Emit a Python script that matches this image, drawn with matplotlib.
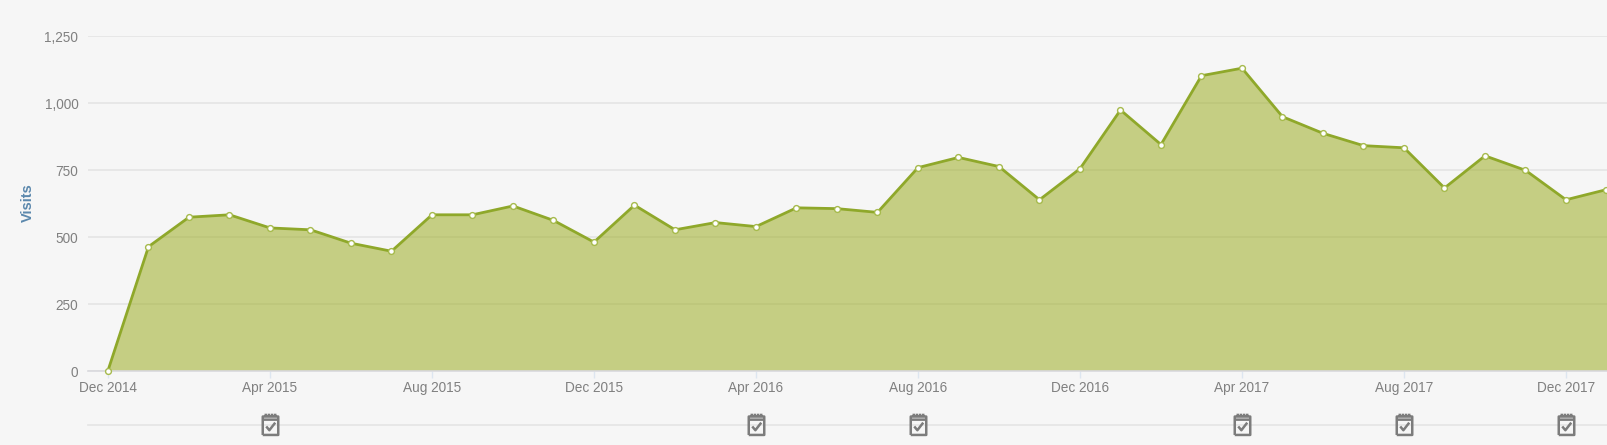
import matplotlib
matplotlib.use("Agg")
import matplotlib.pyplot as plt
from matplotlib.path import Path
from matplotlib.transforms import blended_transform_factory, ScaledTranslation

months = ["Dec 2014", "Jan 2015", "Feb 2015", "Mar 2015", "Apr 2015", "May 2015", "Jun 2015", "Jul 2015",
          "Aug 2015", "Sep 2015", "Oct 2015", "Nov 2015", "Dec 2015", "Jan 2016", "Feb 2016", "Mar 2016",
          "Apr 2016", "May 2016", "Jun 2016", "Jul 2016", "Aug 2016", "Sep 2016", "Oct 2016", "Nov 2016",
          "Dec 2016", "Jan 2017", "Feb 2017", "Mar 2017", "Apr 2017", "May 2017", "Jun 2017", "Jul 2017",
          "Aug 2017", "Sep 2017", "Oct 2017", "Nov 2017", "Dec 2017", "Jan 2018"]
visits = [0, 462, 572, 581, 532, 525, 475, 445,
          581, 581, 614, 560, 479, 617, 525, 552,
          537, 607, 604, 590, 757, 795, 761, 637,
          753, 972, 843, 1100, 1128, 947, 885, 839,
          831, 681, 801, 747, 637, 675]
tick_months = ["Dec 2014", "Apr 2015", "Aug 2015", "Dec 2015", "Apr 2016", "Aug 2016",
               "Dec 2016", "Apr 2017", "Aug 2017", "Dec 2017"]
event_months = ["Apr 2015", "Apr 2016", "Aug 2016", "Apr 2017", "Aug 2017", "Dec 2017"]
y_ticks = [0, 250, 500, 750, 1000, 1250]

W, H = 1608, 445
BG = "#f6f6f6"
plt.rcParams["font.family"] = ["Liberation Sans", "DejaVu Sans"]

fig = plt.figure(figsize=(W / 100, H / 100), dpi=100, facecolor=BG)
left, right, top, bottom = 88, 1608, 35.5, 370.5
ax = fig.add_axes([left / W, 1 - bottom / H, (right - left) / W, (bottom - top) / H], facecolor=BG)

x = list(range(len(months)))
ax.fill_between(x, visits, 0, color="#96a812", alpha=0.5, lw=0, zorder=2)
ax.plot(x, visits, color="#8fa82a", lw=2.0, zorder=3, solid_joinstyle="round",
        marker="o", ms=4.2, mfc="white", mec="#a6ba4c", mew=1.0, clip_on=False)

ax.set_xlim((left - 108) / 40.5, (right - 108) / 40.5)
ax.set_ylim(0, 1250)
ax.set_yticks(y_ticks, [f"{v:,}" for v in y_ticks])
ax.set_xticks([months.index(m) for m in tick_months], tick_months)
ax.tick_params(axis="y", length=0, pad=7, labelsize=9.8, labelcolor="#808080")
ax.tick_params(axis="x", length=5, width=1, color="#dde6f0", pad=10.7, labelsize=9.8, labelcolor="#808080")
for lab in ax.get_xticklabels():
    lab.set_va("baseline")
shift = ScaledTranslation(0, -1 / 100, fig.dpi_scale_trans)
for lab in ax.get_yticklabels():
    lab.set_transform(lab.get_transform() + shift)
ax.grid(axis="y", color="#e4e4e4", lw=1.2, zorder=1)
ax.set_axisbelow(True)
for s in ("top", "left", "right"):
    ax.spines[s].set_visible(False)
ax.spines["bottom"].set_color("#d9d9dd")
ax.spines["bottom"].set_linewidth(1.2)

fig.text(28 / W, 1 - 203 / H, "Visits", rotation=90, ha="center", va="center",
         fontsize=10.5, fontweight="bold", color="#5b88ad")

# event strip under the axis
trans = blended_transform_factory(ax.transData, ax.transAxes)
strip_y = (bottom - 425) / (bottom - top)
ax.plot([0, 1], [strip_y, strip_y], transform=ax.transAxes, color="#e4e4e4", lw=1.2,
        clip_on=False, zorder=1)

w = 0.82
box = [(-w, -1), (w, -1), (w, 0.95), (-w, 0.95), (-w, -1)]
bar = [(-w, 0.62), (w, 0.62)]
rings = [[(-0.5, 0.95), (-0.5, 1.25)], [(-0.17, 0.95), (-0.17, 1.25)],
         [(0.17, 0.95), (0.17, 1.25)], [(0.5, 0.95), (0.5, 1.25)]]
check = [(-0.45, -0.1), (-0.12, -0.5), (0.5, 0.3)]
verts, codes = [], []
for seg in [box, bar, *rings, check]:
    verts += seg
    codes += [Path.MOVETO] + [Path.LINETO] * (len(seg) - 1)
icon = Path(verts, codes)
ax.plot([months.index(m) for m in event_months], [strip_y] * len(event_months), ls="none",
        transform=trans, marker=icon, ms=17, mfc="none", mec="#7c7c7c", mew=1.8,
        clip_on=False, zorder=4)

fig.savefig("out.png", dpi=100, facecolor=BG)
